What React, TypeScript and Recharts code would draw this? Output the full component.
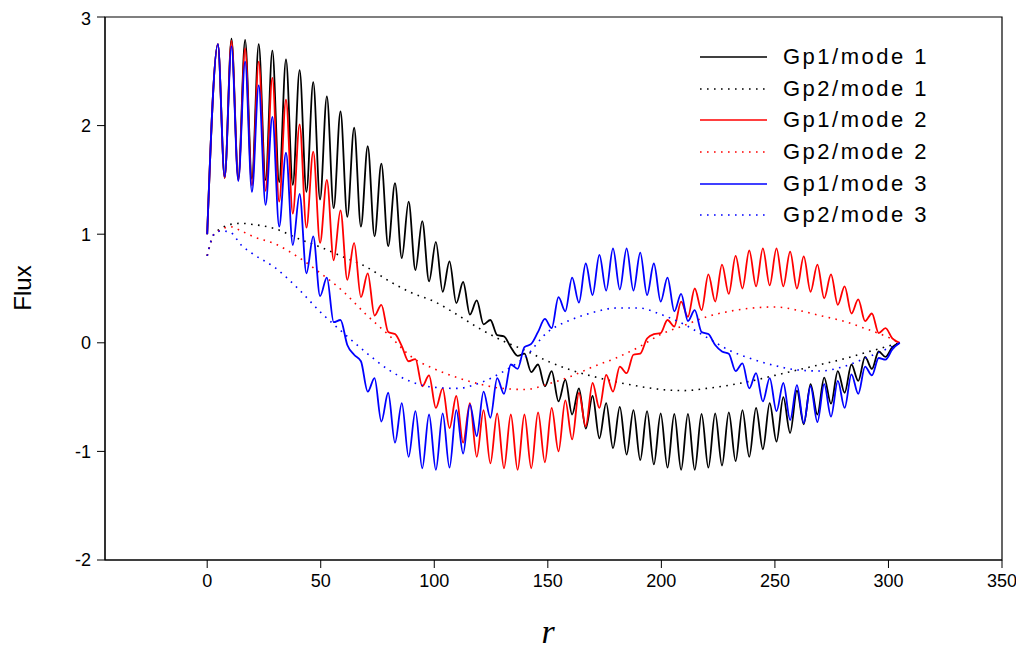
import React from "react";
import {
  LineChart,
  Line,
  XAxis,
  YAxis,
  Legend,
  ReferenceArea,
} from "recharts";

// lattice extrema grid (peaks / troughs of the fine structure)
const rGrid = [
  0, 4.7, 7.7, 10.7, 13.7, 16.7, 19.7, 22.7, 25.7, 28.7, 31.7, 34.7, 37.7,
  40.7, 43.7, 46.7, 49.7, 52.7, 55.7, 58.7, 61.7, 64.7, 67.7, 70.7, 73.7, 76.7,
  79.7, 82.7, 85.7, 88.7, 91.7, 94.7, 97.7, 100.7, 103.7, 106.7, 109.7, 112.7,
  115.7, 118.7, 121.7, 124.7, 127.7, 130.7, 133.7, 136.7, 139.7, 142.7, 145.7,
  148.7, 151.7, 154.7, 157.7, 160.7, 163.7, 166.7, 169.7, 172.7, 175.7, 178.7,
  181.7, 184.7, 187.7, 190.7, 193.7, 196.7, 199.7, 202.7, 205.7, 208.7, 211.7,
  214.7, 217.7, 220.7, 223.7, 226.7, 229.7, 232.7, 235.7, 238.7, 241.7, 244.7,
  247.7, 250.7, 253.7, 256.7, 259.7, 262.7, 265.7, 268.7, 271.7, 274.7, 277.7,
  280.7, 283.7, 286.7, 289.7, 292.7, 295.7, 298.7, 301.7, 305,
];

const gp1Mode1 = [
  1.0,
  2.75, 1.52, 2.8, 1.52, 2.79, 1.51, 2.75, 1.5, 2.69, 1.48,
  2.61, 1.455, 2.51, 1.39, 2.4, 1.32, 2.27, 1.24, 2.13, 1.16,
  1.98, 1.07, 1.81, 0.98, 1.65, 0.89, 1.47, 0.78, 1.3, 0.67,
  1.12, 0.565, 0.93, 0.47, 0.75, 0.365, 0.56, 0.26, 0.39, 0.17,
  0.21, 0.07, 0.06, -0.04, -0.12, -0.1, -0.27, -0.2, -0.4, -0.26,
  -0.54, -0.34, -0.66, -0.42, -0.79, -0.49, -0.88, -0.555, -0.97, -0.59,
  -1.03, -0.62, -1.08, -0.63, -1.12, -0.65, -1.15, -0.655, -1.17, -0.655,
  -1.17, -0.655, -1.15, -0.65, -1.13, -0.64, -1.09, -0.62, -1.05, -0.6,
  -0.98, -0.555, -0.91, -0.5, -0.83, -0.44, -0.75, -0.38, -0.66, -0.32,
  -0.56, -0.26, -0.46, -0.2, -0.35, -0.13, -0.24, -0.08, -0.13, -0.04,
  0,
];

const gp1Mode2 = [
  1.0,
  2.75, 1.52, 2.78, 1.5, 2.71, 1.45, 2.59, 1.4, 2.44, 1.3,
  2.24, 1.19, 2.01, 1.06, 1.76, 0.92, 1.5, 0.76, 1.22, 0.58,
  0.92, 0.42, 0.64, 0.25, 0.35, 0.1, 0.08, -0.03, -0.17, -0.15,
  -0.4, -0.3, -0.6, -0.42, -0.785, -0.49, -0.92, -0.555, -1.05, -0.62,
  -1.11, -0.65, -1.155, -0.66, -1.17, -0.66, -1.155, -0.64, -1.1, -0.6,
  -1.0, -0.53, -0.89, -0.46, -0.77, -0.37, -0.6, -0.295, -0.45, -0.22,
  -0.28, -0.11, -0.1, 0.04, 0.08, 0.09, 0.21, 0.15, 0.38, 0.24,
  0.5, 0.3, 0.63, 0.38, 0.72, 0.45, 0.8, 0.5, 0.85, 0.52,
  0.87, 0.53, 0.87, 0.52, 0.84, 0.5, 0.795, 0.47, 0.72, 0.41,
  0.63, 0.35, 0.52, 0.27, 0.4, 0.2, 0.27, 0.09, 0.135, 0.04,
  0,
];

const gp1Mode3 = [
  1.0,
  2.75, 1.53, 2.73, 1.49, 2.59, 1.39, 2.37, 1.27, 2.08, 1.07,
  1.75, 0.9, 1.37, 0.64, 0.98, 0.43, 0.6, 0.19, 0.21, -0.02,
  -0.11, -0.17, -0.45, -0.325, -0.725, -0.46, -0.92, -0.555, -1.05, -0.63,
  -1.155, -0.66, -1.17, -0.65, -1.15, -0.62, -1.02, -0.57, -0.86, -0.45,
  -0.69, -0.325, -0.47, -0.2, -0.24, -0.04, -0.01, 0.1, 0.22, 0.135,
  0.42, 0.29, 0.6, 0.37, 0.73, 0.44, 0.81, 0.48, 0.87, 0.49,
  0.87, 0.48, 0.83, 0.44, 0.73, 0.38, 0.6, 0.29, 0.45, 0.2,
  0.3, 0.1, 0.08, -0.02, -0.08, -0.1, -0.26, -0.19, -0.42, -0.28,
  -0.54, -0.325, -0.63, -0.37, -0.71, -0.39, -0.74, -0.4, -0.73, -0.38,
  -0.68, -0.35, -0.6, -0.29, -0.47, -0.22, -0.3, -0.14, -0.155, -0.06,
  0,
];

// thermal group, read on a coarser grid
const rGp2 = [
  0, 3, 6, 10, 15, 20, 30, 40, 50, 60, 70, 80, 90, 100, 110, 120, 130, 140,
  150, 160, 170, 180, 190, 200, 210, 220, 230, 240, 250, 260, 270, 280, 290,
  300, 305,
];
const gp2Mode1 = [
  0.8, 1.0, 1.05, 1.09, 1.1, 1.09, 1.05, 0.96, 0.88, 0.79, 0.7, 0.57, 0.46,
  0.38, 0.26, 0.13, 0.02, -0.07, -0.17, -0.25, -0.31, -0.36, -0.4, -0.43,
  -0.44, -0.42, -0.39, -0.35, -0.3, -0.25, -0.2, -0.15, -0.09, -0.03, 0,
];
const gp2Mode2 = [
  0.8, 1.0, 1.04, 1.07, 1.03, 0.98, 0.91, 0.79, 0.64, 0.47, 0.26, 0.07, -0.13,
  -0.24, -0.32, -0.38, -0.42, -0.43, -0.38, -0.31, -0.22, -0.14, -0.04, 0.08,
  0.16, 0.24, 0.29, 0.32, 0.33, 0.3, 0.25, 0.2, 0.13, 0.05, 0,
];
const gp2Mode3 = [
  0.8, 1.0, 1.03, 1.02, 0.9, 0.82, 0.69, 0.5, 0.28, 0.09, -0.09, -0.25, -0.36,
  -0.41, -0.42, -0.37, -0.27, -0.13, 0.1, 0.21, 0.28, 0.32, 0.32, 0.26, 0.17,
  0.05, -0.07, -0.15, -0.21, -0.25, -0.26, -0.22, -0.14, -0.05, 0,
];

const xTicks = [0, 50, 100, 150, 200, 250, 300, 350];
const yTicks = [-2, -1, 0, 1, 2, 3];

const seriesNames = [
  "Gp1/mode 1",
  "Gp2/mode 1",
  "Gp1/mode 2",
  "Gp2/mode 2",
  "Gp1/mode 3",
  "Gp2/mode 3",
];
const seriesColors = ["#000000", "#000000", "#ff0000", "#ff0000", "#0000ff", "#0000ff"];

const gp1Rows = rGrid.map((r, i) => ({
  r,
  m1: gp1Mode1[i],
  m2: gp1Mode2[i],
  m3: gp1Mode3[i],
}));
const gp2Rows = rGp2.map((r, i) => ({
  r,
  m1: gp2Mode1[i],
  m2: gp2Mode2[i],
  m3: gp2Mode3[i],
}));

const sans = "'Liberation Sans', Arial, sans-serif";
const DOTS = "1.6 5.4";
const LW = 1.8;

const LegendBox = () => (
  <div style={{ fontFamily: sans }}>
    {seriesNames.map((name, i) => (
      <div
        key={name}
        style={{ display: "flex", alignItems: "center", height: 31.7 }}
      >
        <svg width={67} height={4} style={{ display: "block" }}>
          <line
            x1={0}
            y1={2}
            x2={67}
            y2={2}
            stroke={seriesColors[i]}
            strokeWidth={1.5}
            strokeDasharray={i % 2 === 1 ? DOTS : undefined}
          />
        </svg>
        <span
          style={{
            marginLeft: 16,
            fontSize: 22,
            letterSpacing: 2.5,
            color: "#000",
            whiteSpace: "nowrap",
          }}
        >
          {name}
        </span>
      </div>
    ))}
  </div>
);

const App = () => {
  return (
    <div style={{ width: 1010, height: 642, fontFamily: sans }}>
      <LineChart
        width={1010}
        height={642}
        data={gp1Rows}
        margin={{ top: 9, right: 16, left: 0, bottom: 40 }}
      >
        <XAxis
          dataKey="r"
          type="number"
          domain={[-45, 350]}
          ticks={xTicks}
          allowDataOverflow
          height={50}
          stroke="#000"
          tickSize={8}
          tickMargin={6}
          tick={{ fill: "#000", fontSize: 18, fontFamily: sans }}
          label={() => (
            <text
              x={540}
              y={635}
              textAnchor="middle"
              fontFamily="'Liberation Serif', 'Times New Roman', serif"
              fontStyle="italic"
              fontSize={34}
              fill="#000"
            >
              r
            </text>
          )}
        />
        <YAxis
          type="number"
          domain={[-2, 3]}
          ticks={yTicks}
          allowDataOverflow
          width={97}
          stroke="#000"
          tickSize={8}
          tickMargin={6}
          tick={{ fill: "#000", fontSize: 18, fontFamily: sans }}
          label={() => (
            <text
              x={14}
              y={280}
              textAnchor="middle"
              dominantBaseline="central"
              transform="rotate(-90 14 280)"
              fontFamily={sans}
              fontSize={24}
              fill="#000"
            >
              Flux
            </text>
          )}
        />
        <ReferenceArea
          x1={-45}
          x2={350}
          y1={-2}
          y2={3}
          fill="none"
          stroke="#000"
          strokeWidth={1.2}
        />
        <Legend
          layout="vertical"
          align="center"
          verticalAlign="middle"
          wrapperStyle={{ left: 692, top: 33, width: 300 }}
          content={() => <LegendBox />}
        />
        <Line
          dataKey="m1"
          type="monotone"
          stroke={seriesColors[0]}
          strokeWidth={LW}
          dot={false}
          isAnimationActive={false}
        />
        <Line
          data={gp2Rows}
          dataKey="m1"
          type="monotone"
          stroke={seriesColors[1]}
          strokeWidth={1.6}
          strokeDasharray={DOTS}
          dot={false}
          isAnimationActive={false}
        />
        <Line
          dataKey="m2"
          type="monotone"
          stroke={seriesColors[2]}
          strokeWidth={LW}
          dot={false}
          isAnimationActive={false}
        />
        <Line
          data={gp2Rows}
          dataKey="m2"
          type="monotone"
          stroke={seriesColors[3]}
          strokeWidth={1.6}
          strokeDasharray={DOTS}
          dot={false}
          isAnimationActive={false}
        />
        <Line
          dataKey="m3"
          type="monotone"
          stroke={seriesColors[4]}
          strokeWidth={LW}
          dot={false}
          isAnimationActive={false}
        />
        <Line
          data={gp2Rows}
          dataKey="m3"
          type="monotone"
          stroke={seriesColors[5]}
          strokeWidth={1.6}
          strokeDasharray={DOTS}
          dot={false}
          isAnimationActive={false}
        />
      </LineChart>
    </div>
  );
};

export default App;
